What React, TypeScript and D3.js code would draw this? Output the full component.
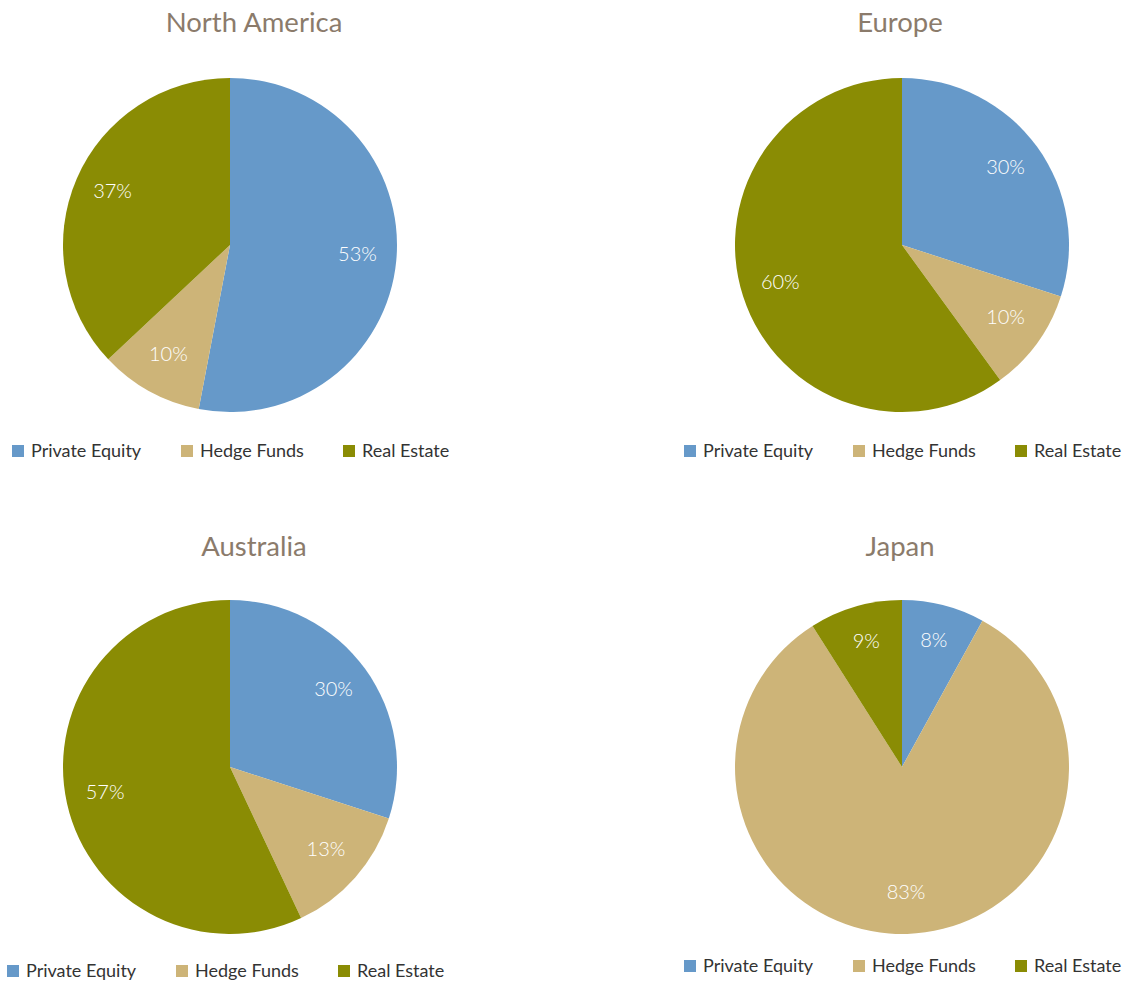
import React from "react";
import * as d3 from "d3";

const categories = ["Private Equity", "Hedge Funds", "Real Estate"];
const colors = ["#6699c9", "#cdb478", "#8a8c04"];
const regions = ["North America", "Europe", "Australia", "Japan"];
const northAmerica = [53, 10, 37];
const europe = [30, 10, 60];
const australia = [30, 13, 57];
const japan = [8, 83, 9];
const seriesValues = [northAmerica, europe, australia, japan];

const W = 1127;
const H = 984;
const R = 167;
const LABEL_R = 128;
const FONT = "'Lato', 'Open Sans', sans-serif";

const layouts = [
  { cx: 230, cy: 245, tx: 254, ty: 32, lx: 12, ly: 451 },
  { cx: 902, cy: 245, tx: 900, ty: 32, lx: 684, ly: 451 },
  { cx: 230, cy: 767, tx: 254, ty: 556, lx: 7, ly: 971 },
  { cx: 902, cy: 767, tx: 900, ty: 556, lx: 684, ly: 966 },
];
const legendOffsets = [0, 169, 331];

function Panel({ title, values, layout }: { title: string; values: number[]; layout: any }) {
  const pie = d3.pie<number>().value((d) => d).sort(null);
  const arcs = pie(values);
  const arc = d3.arc<d3.PieArcDatum<number>>().innerRadius(0).outerRadius(R);
  const labelArc = d3.arc<d3.PieArcDatum<number>>().innerRadius(LABEL_R).outerRadius(LABEL_R);
  const total = d3.sum(values);
  const color = d3.scaleOrdinal<string, string>().domain(categories).range(colors);
  return (
    <g>
      <text x={layout.tx} y={layout.ty} textAnchor="middle" fontSize={27.5} fill="#8b7b6b" fontFamily={FONT}>
        {title}
      </text>
      <g transform={`translate(${layout.cx},${layout.cy})`}>
        {arcs.map((a, i) => (
          <path key={i} d={arc(a) || ""} fill={color(categories[i])} />
        ))}
        {arcs.map((a, i) => {
          const [x, y] = labelArc.centroid(a);
          return (
            <text key={i} x={x} y={y} dy="0.2em" textAnchor="middle" fontSize={20} fontWeight={300} fill="#ffffff" fontFamily={FONT}>
              {`${d3.format(".0f")((a.data / total) * 100)}%`}
            </text>
          );
        })}
      </g>
      <g transform={`translate(${layout.lx},${layout.ly})`}>
        {categories.map((c, i) => (
          <g key={c} transform={`translate(${legendOffsets[i]},0)`}>
            <rect x={0} y={-6} width={12} height={12} fill={color(c)} />
            <text x={19} y={0} dy="0.35em" fontSize={18} fill="#333333" fontFamily={FONT}>
              {c}
            </text>
          </g>
        ))}
      </g>
    </g>
  );
}

export default function App() {
  return (
    <svg width={W} height={H} style={{ position: "absolute", left: 0, top: 0, background: "#fff" }}>
      {regions.map((r, i) => (
        <Panel key={r} title={r} values={seriesValues[i]} layout={layouts[i]} />
      ))}
    </svg>
  );
}
